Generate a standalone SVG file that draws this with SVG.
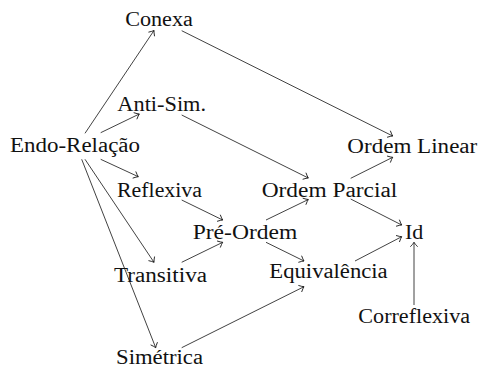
<svg xmlns="http://www.w3.org/2000/svg" width="481" height="369" viewBox="0 0 481 369">
<style>
.t text{font-family:'Liberation Serif','DejaVu Serif',serif;font-size:20px;fill:#111;text-anchor:middle}
.e line{stroke:#111;stroke-width:0.8;fill:none;marker-end:url(#ah)}
</style>
<defs>
<marker id="ah" markerUnits="userSpaceOnUse" markerWidth="10" markerHeight="10" viewBox="-6 -5 8 10" refX="0" refY="0" orient="auto">
<path d="M-4.2,-3.4 Q-1.6,-0.9 0,0 Q-1.6,0.9 -4.2,3.4" fill="none" stroke="#111" stroke-width="0.8" stroke-linecap="round"/>
</marker>
</defs>
<rect width="481" height="369" fill="#fff"/>
<g class="e" id="connectors">
<line x1="85" y1="133.3" x2="154" y2="30.5"/>
<line x1="100.7" y1="132.7" x2="139.3" y2="114"/>
<line x1="100.7" y1="159.3" x2="138.3" y2="176.7"/>
<line x1="85" y1="159.3" x2="154" y2="262.3"/>
<line x1="81.7" y1="159.3" x2="155.7" y2="347.7"/>
<line x1="181.7" y1="30.7" x2="392.7" y2="136"/>
<line x1="181.7" y1="115" x2="308.3" y2="178"/>
<line x1="350.7" y1="178.3" x2="392.7" y2="157.3"/>
<line x1="181.7" y1="200" x2="222.7" y2="220"/>
<line x1="181.7" y1="262.3" x2="222.7" y2="242.3"/>
<line x1="266" y1="220" x2="308.3" y2="199.5"/>
<line x1="266" y1="242.3" x2="304" y2="261"/>
<line x1="181.7" y1="347.7" x2="304" y2="286.7"/>
<line x1="350.7" y1="199" x2="401.7" y2="225"/>
<line x1="355" y1="261" x2="401.7" y2="236.7"/>
<line x1="414" y1="305" x2="414" y2="242.3"/>
</g>
<g class="t" font-family="Liberation Serif, serif">
<g id="conexa"><text x="159" y="26" textLength="67.7" lengthAdjust="spacingAndGlyphs">Conexa</text></g>
<g id="antisim"><text x="161.7" y="110.5" textLength="88.7" lengthAdjust="spacingAndGlyphs">Anti-Sim.</text></g>
<g id="endo"><text x="75" y="152" textLength="130" lengthAdjust="spacingAndGlyphs">Endo-Relação</text></g>
<g id="reflexiva"><text x="159.5" y="196.5" textLength="85" lengthAdjust="spacingAndGlyphs">Reflexiva</text></g>
<g id="transitiva"><text x="160.5" y="281.5" textLength="93" lengthAdjust="spacingAndGlyphs">Transitiva</text></g>
<g id="simetrica"><text x="159.5" y="364.3" textLength="87" lengthAdjust="spacingAndGlyphs">Simétrica</text></g>
<g id="preordem"><text x="245" y="238.5" textLength="104.6" lengthAdjust="spacingAndGlyphs">Pré-Ordem</text></g>
<g id="ordemparcial"><text x="329.5" y="196.7" textLength="135.7" lengthAdjust="spacingAndGlyphs">Ordem Parcial</text></g>
<g id="equivalencia"><text x="328.5" y="278.3" textLength="118.4" lengthAdjust="spacingAndGlyphs">Equivalência</text></g>
<g id="ordemlinear"><text x="412.3" y="153.3" textLength="130" lengthAdjust="spacingAndGlyphs">Ordem Linear</text></g>
<g id="id"><text x="414.2" y="239" textLength="18.3" lengthAdjust="spacingAndGlyphs">Id</text></g>
<g id="correflexiva"><text x="414.2" y="323.3" textLength="111.7" lengthAdjust="spacingAndGlyphs">Correflexiva</text></g>
</g>
</svg>
